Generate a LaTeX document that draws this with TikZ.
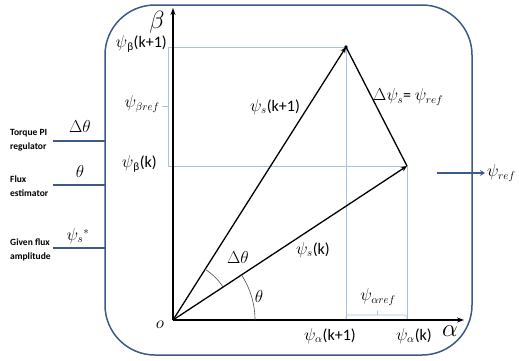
\documentclass[tikz,border=0pt]{standalone}
\usepackage{fontspec}
\setmainfont{Carlito}
\usetikzlibrary{arrows.meta}
\definecolor{framec}{RGB}{60,90,135}
\definecolor{guidec}{RGB}{165,195,220}
\begin{document}
\begin{tikzpicture}[x=1pt,y=-1pt,
  axisline/.style={line width=2pt,-{Stealth[length=7pt,width=5pt]}},
  vecline/.style={line width=1.3pt,-{Stealth[length=6pt,width=5pt]}},
  plainvec/.style={line width=1.3pt},
  guide/.style={guidec,line width=0.6pt},
  inputline/.style={framec,line width=2.5pt},
  lbl/.style={inner sep=1pt,font=\fontsize{16}{18}\selectfont},
  biglbl/.style={inner sep=1pt,font=\fontsize{25}{27}\selectfont},
  sidetext/.style={align=left,inner sep=0pt,font=\bfseries\fontsize{9.5}{14}\selectfont},
  anglearc/.style={line width=0.6pt,black!70}]
\useasboundingbox (0,0) rectangle (519,360);
% frame
\draw[framec,line width=1.5pt,rounded corners=50pt] (105,5) rectangle (472,355);
% coordinates
\coordinate (O) at (173,320);
\coordinate (btop) at (173,8);
\coordinate (aend) at (464,320);
\coordinate (P1) at (346,47);
\coordinate (P2) at (407,166);
\coordinate (gl1) at (168,47);
\coordinate (gl2) at (168,166);
\coordinate (gb1) at (346,320);
\coordinate (gb2) at (407,320);
% guides
\draw[guide] (gl1) -- (P1) -- (gb1);
\draw[guide] (gl2) -- (P2) -- (gb2);
\draw[guide] (gl1) -- (gl2);
\coordinate (tickA) at (168,106);
\coordinate (tickB) at (162,106);
\draw[guide] (tickA) -- (tickB);
\coordinate (br1) at (346,315);
\coordinate (br2) at (407,315);
\coordinate (brm) at (377,315);
\coordinate (brt) at (377,311);
\draw[guide,rounded corners=1.5pt] (gb1) -- (br1) -- (br2) -- (gb2);
\draw[guide] (brm) -- (brt);
% axes
\draw[axisline] (O) -- (btop);
\draw[axisline] (O) -- (aend);
% vectors
\draw[vecline] (O) -- (P1);
\draw[vecline] (O) -- (P2);
\draw[plainvec] (P1) -- (P2);
\fill (P1) circle (1.8pt);
% arcs
\draw[anglearc] (O) ++(0:82) arc (0:-33.3:82);
\draw[anglearc] (O) ++(-33.3:60) arc (-33.3:-57.6:60);
% labels
\node[biglbl] (lbeta) at (157,22) {$\beta$};
\node[biglbl] (lalpha) at (450,331) {$\alpha$};
\node[lbl,anchor=east] (lbk1) at (168,44) {$\psi$\textsubscript{β}(k+1)};
\node[lbl,anchor=east] (lbref) at (161,104) {$\psi_{\beta ref}$};
\node[lbl,anchor=east] (lbk) at (158,164) {$\psi$\textsubscript{β}(k)};
\node[lbl] (lsk1) at (275,107) {$\psi_s$(k+1)};
\node[lbl,anchor=west] (ldpsi) at (372,97) {$\Delta\psi_s$= $\psi_{ref}$};
\node[lbl] (lsk) at (313,250) {$\psi_s$(k)};
\node[lbl] (ldth) at (238,257) {$\Delta\theta$};
\node[lbl] (lth) at (259,296) {$\theta$};
\node[lbl] (lO) at (160,325) {$o$};
\node[lbl] (lak1) at (330,336) {$\psi_\alpha$(k+1)};
\node[lbl] (lak) at (414,336) {$\psi_\alpha$(k)};
\node[lbl] (laref) at (378,297) {$\psi_{\alpha ref}$};
% output
\coordinate (outA) at (437,173);
\node[lbl,anchor=west,inner sep=0pt] (lout) at (487,173) {$\psi_{ref}$};
\draw[inputline,shorten >=2pt,-{Stealth[length=5pt,width=6pt]}] (outA) -- (lout.west);
% inputs
\coordinate (in1a) at (53,141); \coordinate (in1b) at (105,141);
\coordinate (in2a) at (53,185); \coordinate (in2b) at (105,185);
\coordinate (in3a) at (53,248); \coordinate (in3b) at (105,248);
\draw[inputline] (in1a) -- (in1b);
\draw[inputline] (in2a) -- (in2b);
\draw[inputline] (in3a) -- (in3b);
\node[sidetext,anchor=west] (t1) at (10,140) {Torque PI\\regulator};
\node[sidetext,anchor=west] (t2) at (10,186) {Flux\\estimator};
\node[sidetext,anchor=west] (t3) at (10,250) {Given flux\\amplitude};
\node[lbl] (i1) at (80,126) {$\Delta\theta$};
\node[lbl] (i2) at (80,171) {$\theta$};
\node[lbl] (i3) at (78,236) {$\psi_s{}^{*}$};
\end{tikzpicture}
\end{document}
